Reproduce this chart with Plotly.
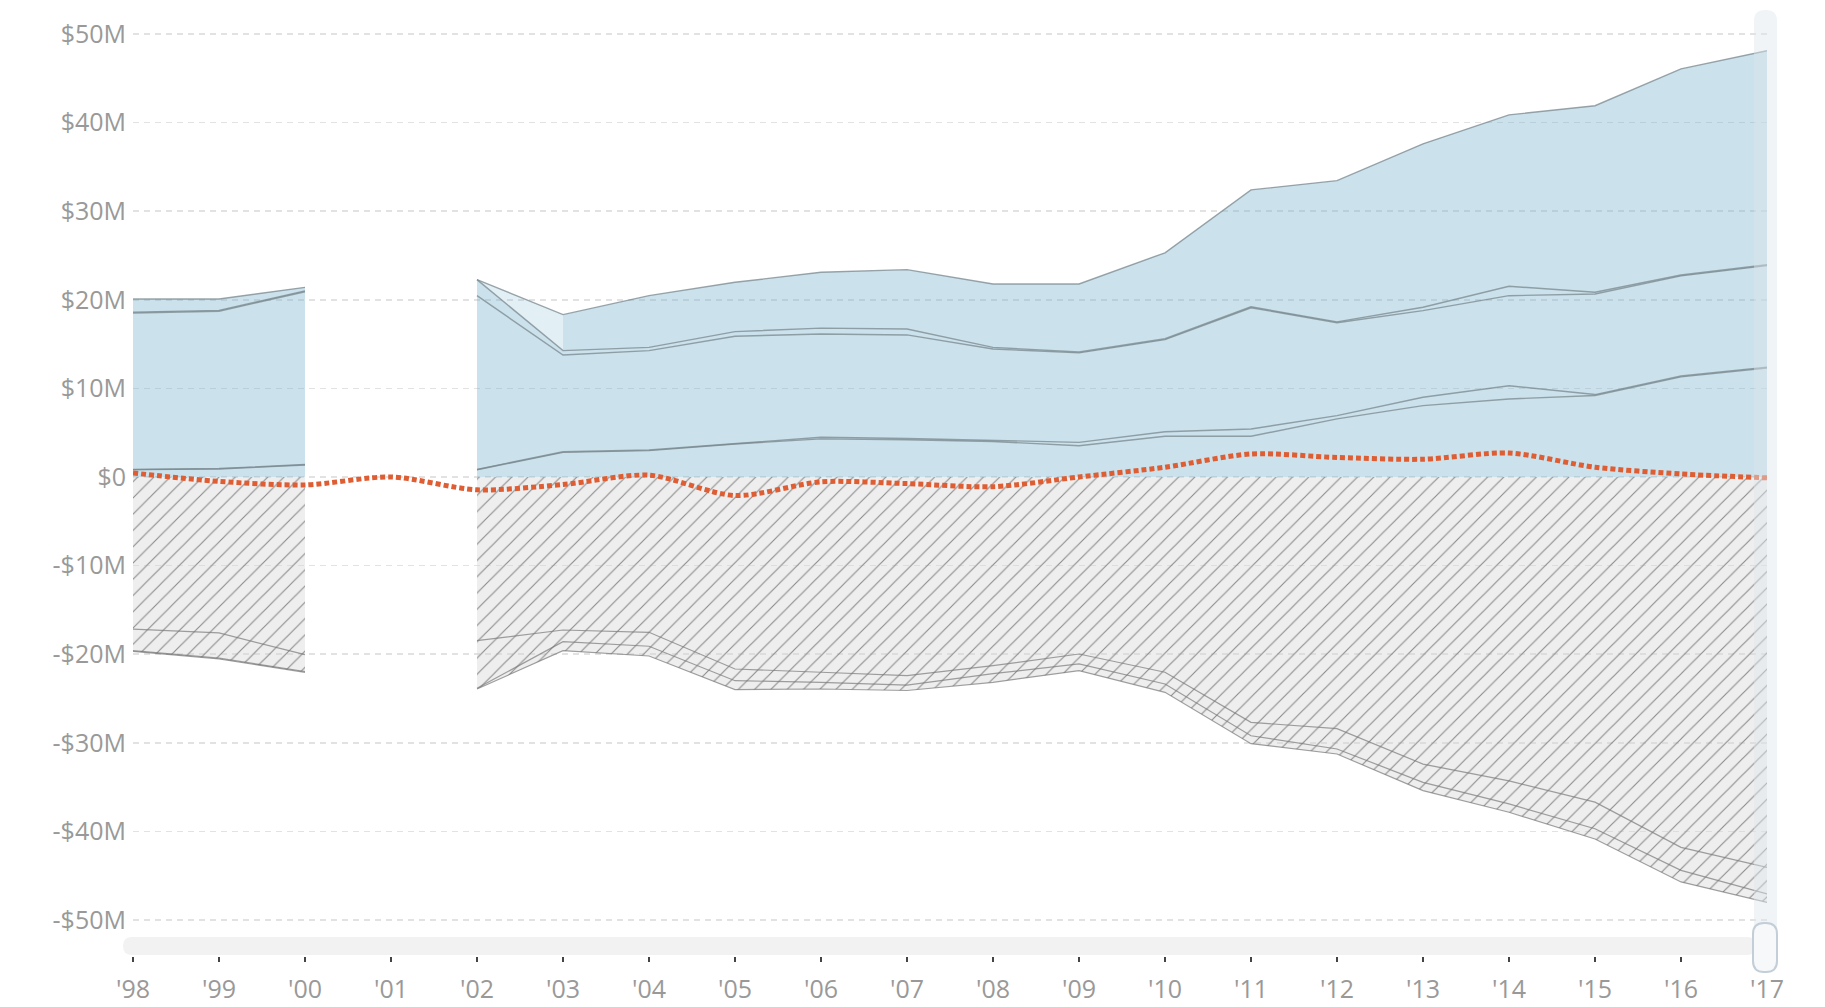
import plotly.graph_objects as go

# ---------------- data (values in $M) ----------------
years = list(range(1998, 2018))
year_labels = ["'98", "'99", "'00", "'01", "'02", "'03", "'04", "'05", "'06", "'07",
               "'08", "'09", "'10", "'11", "'12", "'13", "'14", "'15", "'16", "'17"]

# positive (revenue-like) stacked layers, bottom to top; None = no data
pos_layer_1 = [0.83, 0.90, 1.35, None, 0.82, 2.78, 2.97, 3.72, 4.30, 4.20,
               4.00, 3.53, 4.59, 4.59, 6.55, 8.05, 8.80, 9.20, 11.30, 12.30]
pos_layer_2 = [0.02, 0.05, 0.05, None, 0.03, 0.07, 0.08, 0.08, 0.18, 0.15,
               0.10, 0.38, 0.52, 0.83, 0.37, 0.95, 1.50, 0.10, 0.10, 0.10]
pos_layer_3 = [17.65, 17.75, 19.50, None, 19.61, 10.92, 11.21, 12.08, 11.66, 11.68,
               10.35, 10.09, 10.39, 13.68, 10.48, 9.77, 10.16, 11.35, 11.30, 11.45]
pos_layer_4 = [0.10, 0.10, 0.10, None, 1.81, 0.49, 0.37, 0.52, 0.66, 0.67,
               0.18, 0.10, 0.10, 0.10, 0.10, 0.38, 1.06, 0.20, 0.10, 0.10]
pos_layer_5 = [1.49, 1.29, 0.40, None, 0.00, 4.06, 5.83, 5.57, 6.30, 6.70,
               7.15, 7.68, 9.70, 13.20, 15.94, 18.45, 19.34, 21.05, 23.25, 24.15]

# negative (expense-like) stacked layers, top to bottom
neg_layer_1 = [-17.16, -17.60, -20.05, None, -18.47, -17.27, -17.53, -21.67, -22.04, -22.42,
               -21.30, -19.98, -22.04, -27.69, -28.40, -32.40, -34.30, -36.70, -41.80, -44.05]
neg_layer_2 = [-2.44, -2.85, -1.90, None, -5.38, -1.32, -1.57, -1.32, -1.13, -1.06,
               -0.90, -1.12, -1.32, -1.51, -2.30, -2.06, -2.60, -3.00, -2.60, -3.01]
neg_layer_3 = [-0.08, -0.09, -0.10, None, -0.08, -1.01, -1.10, -1.01, -0.76, -0.62,
               -0.97, -0.76, -0.94, -0.90, -0.56, -0.94, -0.94, -1.16, -1.30, -0.94]

# net balance line
net = [0.45, -0.50, -0.90, 0.00, -1.45, -0.85, 0.20, -2.10, -0.55, -0.75,
       -1.10, 0.00, 1.10, 2.60, 2.20, 2.00, 2.70, 1.10, 0.34, -0.10]

y_tick_vals = [50, 40, 30, 20, 10, 0, -10, -20, -30, -40, -50]
y_tick_text = ["$50M", "$40M", "$30M", "$20M", "$10M", "$0",
               "-$10M", "-$20M", "-$30M", "-$40M", "-$50M"]

# ---------------- styles ----------------
POS_FILL = "rgba(124,181,206,0.40)"
POS_FILL_LIGHT = "rgba(124,181,206,0.22)"
POS_LINE = "rgba(120,135,142,0.75)"
NEG_LINE = "rgba(110,110,110,0.65)"
NET_COLOR = "#de5d33"
# span in which the top positive layer is drawn lighter
light_span = (2002, 2003)

fig = go.Figure()


def segments(values):
    segs, cur = [], []
    for i, v in enumerate(values):
        if v is None:
            if cur:
                segs.append(cur)
            cur = []
        else:
            cur.append(i)
    if cur:
        segs.append(cur)
    return segs


def add_fill(xs, lower, upper, fill=None, pattern=None):
    fig.add_trace(go.Scatter(x=xs, y=lower, mode="lines", line=dict(width=0),
                             showlegend=False, hoverinfo="skip"))
    kw = dict(x=xs, y=upper, mode="lines", line=dict(width=0), fill="tonexty",
              showlegend=False, hoverinfo="skip")
    if fill:
        kw["fillcolor"] = fill
    if pattern:
        kw["fillpattern"] = pattern
        kw["fillcolor"] = "rgba(0,0,0,0)"
    fig.add_trace(go.Scatter(**kw))


pos_layers = [pos_layer_1, pos_layer_2, pos_layer_3, pos_layer_4, pos_layer_5]
neg_layers = [neg_layer_1, neg_layer_2, neg_layer_3]

hatch = dict(shape="/", size=11.5, solidity=0.1, fgcolor="#8c8c8c",
             bgcolor="rgba(212,212,212,0.40)", fillmode="replace")

line_traces = []
for seg in segments(pos_layer_1):
    xs = [years[i] for i in seg]
    # positive stack
    base = [0.0] * len(seg)
    for li, layer in enumerate(pos_layers):
        top = [b + layer[i] for b, i in zip(base, seg)]
        if li == len(pos_layers) - 1 and xs[0] <= light_span[0] < xs[-1]:
            k0 = xs.index(light_span[0])
            k1 = xs.index(light_span[1])
            add_fill(xs[k0:k1 + 1], base[k0:k1 + 1], top[k0:k1 + 1], fill=POS_FILL_LIGHT)
            add_fill(xs[k1:], base[k1:], top[k1:], fill=POS_FILL)
        else:
            add_fill(xs, base, top, fill=POS_FILL)
        line_traces.append((xs, top, POS_LINE, 1.4))
        base = top
    # negative stack
    base = [0.0] * len(seg)
    for layer in neg_layers:
        top = [b + layer[i] for b, i in zip(base, seg)]
        add_fill(xs, base, top, pattern=hatch)
        line_traces.append((xs, top, NEG_LINE, 1.2))
        base = top

for xs, ys, col, w in line_traces:
    fig.add_trace(go.Scatter(x=xs, y=ys, mode="lines", line=dict(color=col, width=w),
                             showlegend=False, hoverinfo="skip"))

fig.add_trace(go.Scatter(x=years, y=net, mode="lines",
                         line=dict(color=NET_COLOR, width=5, dash="5px,3px",
                                   shape="spline", smoothing=0.8),
                         showlegend=False))

# ---------------- layout ----------------
OFF = 0  # page body margin is removed by the post script below
W, H = 1825, 1007
L, R, T, B = 133, 58, 10, 51
PW, PH = W - L - R, H - T - B


def px(x):  # page pixel -> paper x
    return (x - OFF - L) / PW


def py(y):  # page pixel -> paper y
    return (H - B - (y - OFF)) / PH


def rounded(x0, y0, x1, y1, r):
    rx = r / PW
    ry = r / PH
    a, b, c, d = px(x0), py(y1), px(x1), py(y0)  # left, bottom, right, top (paper)
    return (f"M{a + rx},{b} L{c - rx},{b} Q{c},{b} {c},{b + ry} "
            f"L{c},{d - ry} Q{c},{d} {c - rx},{d} L{a + rx},{d} "
            f"Q{a},{d} {a},{d - ry} L{a},{b + ry} Q{a},{b} {a + rx},{b} Z")


shapes = [
    dict(type="path", xref="paper", yref="paper", layer="below",
         path=rounded(123, 937, 1756, 955, 9), fillcolor="#f2f2f2", line=dict(width=0)),
    dict(type="path", xref="paper", yref="paper", layer="above",
         path=rounded(1754, 10, 1777, 972, 11), fillcolor="rgba(222,230,237,0.45)",
         line=dict(width=0)),
    dict(type="path", xref="paper", yref="paper", layer="above",
         path=rounded(1753, 923, 1777, 972, 11), fillcolor="#f6f8fa",
         line=dict(color="#c3ced8", width=2)),
]

fig.update_layout(
    width=W, height=H,
    margin=dict(l=L, r=R, t=T, b=B, pad=0, autoexpand=False),
    paper_bgcolor="white", plot_bgcolor="white",
    font=dict(family="Open Sans", color="#999999", size=25),
    showlegend=False,
    hovermode=False,
    shapes=shapes,
    xaxis=dict(range=[1998, 2017], tickvals=years, ticktext=year_labels,
               showgrid=False, zeroline=False, showline=False, automargin=False,
               ticks="outside", ticklen=5, tickwidth=2, tickcolor="#444444",
               tickfont=dict(size=25, color="#999999"), ticklabelstandoff=6,
               fixedrange=True),
    yaxis=dict(range=[-54.06, 52.7], tickvals=y_tick_vals, ticktext=y_tick_text,
               showgrid=True, gridcolor="#e2e2e2", gridwidth=1.5, griddash="6px,5px",
               zeroline=False, showline=False, ticks="", automargin=False,
               tickfont=dict(size=25, color="#999999"), ticklabelstandoff=6,
               fixedrange=True),
)

fig.write_html("out.html",
               config={"displayModeBar": False, "staticPlot": True},
               post_script="document.body.style.margin='0';document.body.style.overflow='hidden';")
